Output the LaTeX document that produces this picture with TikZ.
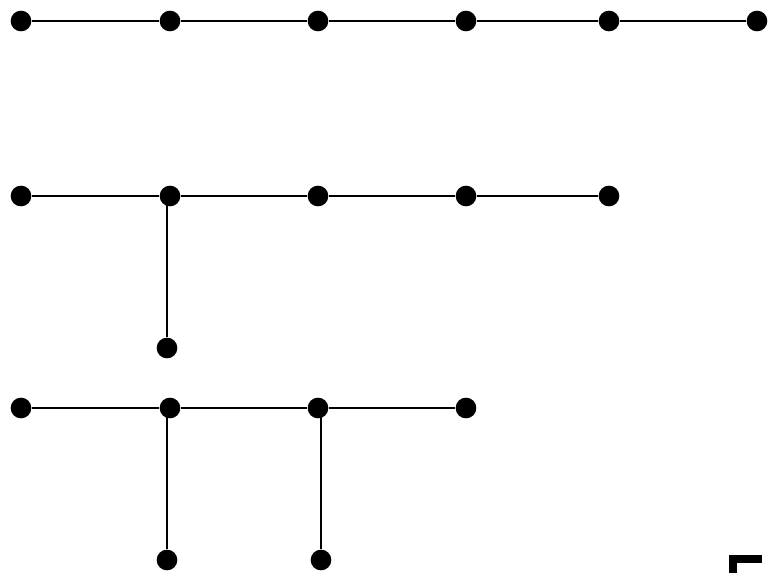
\documentclass[tikz,border=0pt]{standalone}
\usepackage{tikz}

\begin{document}
\begin{tikzpicture}[x=0.03cm,y=-0.03cm,
  vtx/.style={circle,fill=black,inner sep=0pt,minimum size=0.62cm},
  edge/.style={line width=1.6pt}]
  \useasboundingbox (0,0) rectangle (771,573);
  % path on six vertices
  \foreach \n/\x in {a1/21,a2/170,a3/318,a4/466,a5/609,a6/757} {\node[vtx] (\n) at (\x,21) {};}
  \draw[edge] (a1)--(a2)--(a3)--(a4)--(a5)--(a6);
  % one branch
  \foreach \n/\x in {b1/21,b2/170,b3/318,b4/466,b5/609} {\node[vtx] (\n) at (\x,196) {};}
  \node[vtx] (b6) at (167,348) {};
  \draw[edge] (b1)--(b2)--(b3)--(b4)--(b5);
  \draw[edge] (b6)--(b6 |- b2);
  % two branches
  \foreach \n/\x in {c1/21,c2/170,c3/318,c4/466} {\node[vtx] (\n) at (\x,408) {};}
  \node[vtx] (c5) at (167,560) {};
  \node[vtx] (c6) at (321,560) {};
  \draw[edge] (c1)--(c2)--(c3)--(c4);
  \draw[edge] (c5)--(c5 |- c2);
  \draw[edge] (c6)--(c6 |- c3);
  % corner mark
  \fill (729,555) rectangle (762,563);
  \fill (729,555) rectangle (737,573);
\end{tikzpicture}
\end{document}
